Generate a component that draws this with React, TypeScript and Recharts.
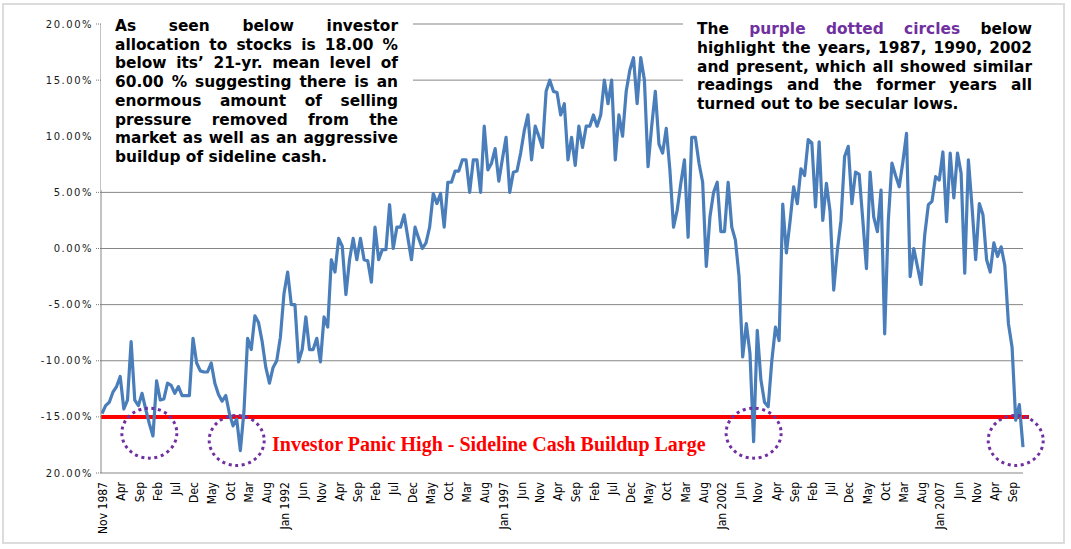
import React from "react";
import { LineChart, Line, XAxis, YAxis, CartesianGrid, ReferenceLine, ReferenceDot } from "recharts";

const MONTHS = ["Jan", "Feb", "Mar", "Apr", "May", "Jun", "Jul", "Aug", "Sep", "Oct", "Nov", "Dec"];
const START_YEAR = 1987;
const START_MONTH = 10; // Nov

const VALUES = [
  -14.7, -14.0, -13.7, -12.8, -12.3, -11.4, -14.3, -13.5, -8.3, -13.5,
  -14.0, -12.9, -14.3, -15.6, -16.7, -11.8, -13.5, -13.4, -12.0, -12.2,
  -12.9, -12.3, -13.1, -13.1, -13.1, -8.0, -10.2, -10.9, -11.0, -11.0,
  -10.2, -12.0, -13.0, -13.6, -13.1, -14.7, -15.8, -15.2, -18.0, -14.5,
  -8.0, -9.0, -6.0, -6.6, -8.3, -10.6, -12.0, -10.6, -10.0, -7.9,
  -4.0, -2.1, -5.0, -5.0, -10.1, -9.0, -6.1, -9.0, -9.0, -8.0,
  -10.1, -6.1, -7.0, -1.0, -2.1, 0.9, 0.2, -4.1, -1.0, 0.9,
  -1.0, 0.9, -1.0, -1.1, -3.0, 1.9, -1.0, -0.1, -0.1, 3.9,
  0.0, 1.9, 1.9, 3.0, 1.0, -1.0, 1.9, 0.9, 0.0, 0.5,
  1.9, 4.9, 4.0, 4.9, 1.9, 5.9, 5.9, 6.9, 6.9, 7.9,
  7.9, 5.0, 7.9, 7.9, 5.0, 10.9, 7.0, 7.6, 8.9, 6.0,
  8.0, 9.9, 5.0, 6.8, 6.9, 8.5, 10.5, 11.9, 7.9, 10.9,
  10.0, 9.0, 14.0, 15.0, 14.0, 13.9, 11.9, 12.9, 7.9, 9.9,
  7.4, 10.9, 9.0, 10.9, 10.9, 11.9, 10.9, 11.9, 15.0, 12.9,
  15.0, 7.9, 11.9, 10.0, 14.0, 15.9, 17.0, 12.9, 17.0, 15.0,
  7.3, 10.9, 14.0, 9.3, 8.5, 10.7, 7.0, 1.9, 3.4, 5.8,
  7.9, 1.0, 9.9, 9.9, 7.6, 5.9, -1.6, 2.8, 5.0, 5.9,
  1.5, 1.5, 5.9, 1.9, 0.75, -2.5, -9.65, -6.7, -9.35, -17.2,
  -7.3, -11.7, -13.7, -14.1, -10.0, -7.0, -8.2, 3.95, -0.4, 2.4,
  5.5, 4.0, 7.1, 6.5, 9.7, 9.4, 3.7, 9.5, 2.5, 5.8,
  3.3, -3.7, -0.15, 2.5, 8.2, 9.1, 4.0, 6.8, 6.6, 2.5,
  -1.8, 6.8, 2.8, 1.5, 5.2, -7.6, 2.5, 7.6, 6.5, 5.5,
  7.7, 10.25, -2.5, 0.0, -1.6, -3.2, 1.2, 3.9, 4.2, 6.4,
  6.1, 8.6, 2.4, 8.5, 4.5, 8.5, 6.7, -2.2, 7.9, 3.7,
  -1.0, 4.0, 3.0, -1.0, -2.1, 0.5, -0.7, 0.15, -1.5, -6.7,
  -8.8, -15.3, -13.9, -17.7,
];

const CATEGORIES = VALUES.map((_, i) => {
  const m = (START_MONTH + i) % 12;
  const y = START_YEAR + Math.floor((START_MONTH + i) / 12);
  return `${MONTHS[m]} ${y}`;
});

const Y_TICKS = [-20, -15, -10, -5, 0, 5, 10, 15, 20];
const GRID_VALUES = [20, 15, 5, 0, -5, -10, -15];
const PANIC_LEVEL = -15;

// highlighted lows: [category index, value]
const CIRCLES: [number, number][] = [
  [13, -16.45],
  [37, -17.1],
  [179, -16.45],
  [251, -17.1],
];

const data = CATEGORIES.map((c, i) => ({ date: c, value: VALUES[i] }));

const XTick = (props: any) => {
  const { x, y, payload } = props;
  const v: string = payload.value;
  const label = v === CATEGORIES[0] || v.startsWith("Jan") ? v : v.slice(0, 3);
  return (
    <g transform={`translate(${x + 1},${y + 1})`}>
      <text
        transform="rotate(-90)"
        textAnchor="end"
        dy="0.35em"
        fontSize={12}
        fontFamily="'Liberation Sans Narrow', 'Arial Narrow', 'DejaVu Sans Condensed', sans-serif"
        fill="#000"
      >
        {label}
      </text>
    </g>
  );
};

const YTick = (props: any) => {
  const { x, y, payload } = props;
  const v: number = payload.value;
  const label = v === -20 ? "20.00%" : `${v.toFixed(2)}%`;
  return (
    <g>
      <text
        x={x}
        y={y}
        dy="0.35em"
        textAnchor="end"
        fontSize={10}
        letterSpacing="1.5px"
        fontFamily="'DejaVu Sans', Verdana, sans-serif"
        fill="#1a1a1a"
      >
        {label}
      </text>
      {v !== 10 && (
        <line x1={x + 3} x2={x + 8} y1={y} y2={y} stroke="#777" strokeWidth={1} strokeDasharray="1 1" />
      )}
    </g>
  );
};

const Ellipse = (props: any) => {
  const { cx, cy } = props;
  return (
    <ellipse
      cx={cx}
      cy={cy}
      rx={27.5}
      ry={25}
      fill="none"
      stroke="#7030A0"
      strokeWidth={3}
      strokeDasharray="3 3.6"
    />
  );
};

const PanicLine = (props: any) => {
  const { x1, y1, x2, y2 } = props;
  return <line x1={x1} y1={y1} x2={x2 + 6} y2={y2} stroke="#FF0000" strokeWidth={4} />;
};

const boxText: React.CSSProperties = {
  fontFamily: "'DejaVu Sans', Verdana, sans-serif",
  fontWeight: "bold",
  fontSize: 15.4,
  color: "#000",
};

const J = ({ children, last }: { children: React.ReactNode; last?: boolean }) => (
  <div style={{ textAlign: last ? "left" : "justify", textAlignLast: last ? "left" : "justify" }}>{children}</div>
);

const LEFT_LINES = [
  "As seen below investor",
  "allocation to stocks is 18.00 %",
  "below its\u2019 21-yr. mean level of",
  "60.00 % suggesting there is an",
  "enormous amount of selling",
  "pressure removed from the",
  "market as well as an aggressive",
  "buildup of sideline cash.",
];

const RIGHT_LINES_REST = [
  "highlight the years, 1987, 1990, 2002",
  "and present, which all showed similar",
  "readings and the former years all",
  "turned out to be secular lows.",
];

export default function App() {
  return (
    <div style={{ position: "absolute", left: 0, top: 0, width: 1071, height: 549, background: "#fff", overflow: "hidden" }}>
      <div
        style={{
          position: "absolute",
          left: 2,
          top: 3,
          width: 1063,
          height: 541,
          border: "2px solid #dcdcdc",
          boxSizing: "border-box",
        }}
      />
      <div style={{ position: "absolute", left: 0, top: 0 }}>
        <LineChart width={1071} height={549} data={data} margin={{ top: 24, right: 48, bottom: 6, left: 8 }}>
          <CartesianGrid horizontal={true} vertical={false} stroke="#868686" horizontalValues={GRID_VALUES} />
          <XAxis
            dataKey="date"
            interval={4}
            tick={<XTick />}
            tickLine={false}
            axisLine={{ stroke: "#868686", strokeWidth: 1 }}
            height={70}
            padding={{ left: 1, right: 0 }}
          />
          <YAxis
            type="number"
            domain={[-20, 20]}
            ticks={Y_TICKS}
            tick={<YTick />}
            tickLine={false}
            axisLine={{ stroke: "#868686", strokeWidth: 1 }}
            width={93}
            interval={0}
          />
          <ReferenceLine y={PANIC_LEVEL} shape={<PanicLine />} />
          <Line
            type="linear"
            dataKey="value"
            stroke="#4A7EBB"
            strokeWidth={3.2}
            dot={false}
            strokeLinejoin="round"
            isAnimationActive={false}
          />
          {CIRCLES.map(([idx, val]) => (
            <ReferenceDot key={idx} x={CATEGORIES[idx]} y={val} r={26} shape={<Ellipse />} />
          ))}
        </LineChart>
      </div>

      <div
        style={{
          position: "absolute",
          left: 101,
          top: 8,
          width: 312,
          height: 182,
          background: "#fff",
          boxSizing: "border-box",
          padding: "9px 15px 0 14px",
          lineHeight: "18.7px",
          ...boxText,
        }}
      >
        {LEFT_LINES.map((l, i) => (
          <J key={i} last={i === LEFT_LINES.length - 1}>
            {l}
          </J>
        ))}
      </div>

      <div
        style={{
          position: "absolute",
          left: 683,
          top: 8,
          width: 362,
          height: 118,
          background: "#fff",
          boxSizing: "border-box",
          padding: "12px 13px 0 14px",
          lineHeight: "18.8px",
          ...boxText,
        }}
      >
        <J>
          The <span style={{ color: "#7030A0" }}>purple dotted circles</span> below
        </J>
        {RIGHT_LINES_REST.map((l, i) => (
          <J key={i} last={i === RIGHT_LINES_REST.length - 1}>
            {l}
          </J>
        ))}
      </div>

      <div
        style={{
          position: "absolute",
          left: 272,
          top: 434,
          fontFamily: "'Liberation Serif', 'Times New Roman', serif",
          fontWeight: "bold",
          fontSize: 20,
          lineHeight: "20px",
          color: "#FF0000",
          whiteSpace: "nowrap",
        }}
      >
        Investor Panic High - Sideline Cash Buildup Large
      </div>
    </div>
  );
}
